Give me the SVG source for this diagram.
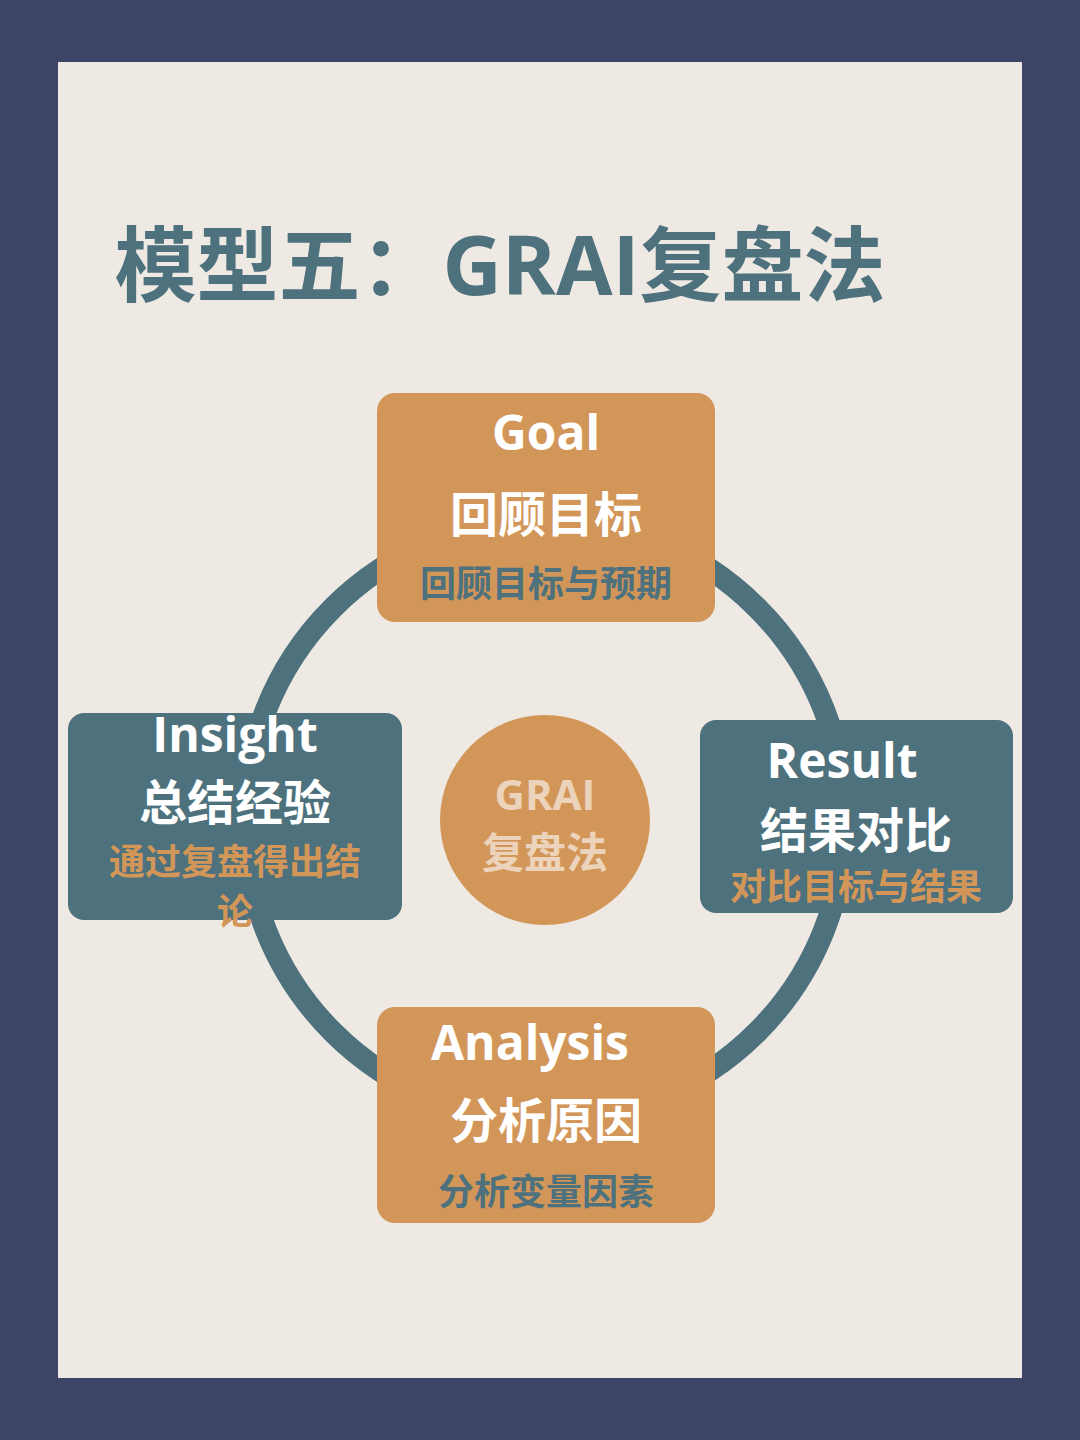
<svg xmlns="http://www.w3.org/2000/svg" width="1080" height="1440" viewBox="0 0 1080 1440">
<style>
text{font-family:"Open Sans","Noto Sans CJK SC",sans-serif;font-weight:bold;text-anchor:middle}
.w{fill:#ffffff}.t{fill:#4d717d}.o{fill:#d39659}.c{fill:#ecd3bb}
.big{font-size:48px}.sm{font-size:36px}
</style>
<rect width="1080" height="1440" fill="#3d4566"/>
<rect x="58" y="62" width="964" height="1316" fill="#efe9e4"/>
<text x="500" y="295" class="t" style="font-size:82px">模型五：GRAI复盘法</text>
<g id="connectors"><circle cx="545" cy="820" r="300" fill="none" stroke="#4d717d" stroke-width="22"/></g>
<g id="goal"><rect x="377" y="393" width="338" height="229" rx="18" fill="#d39659"/>
<text x="546" y="450" class="w big">Goal</text><text x="546" y="532" class="w big">回顾目标</text><text x="546" y="597" class="t sm">回顾目标与预期</text></g>
<g id="result"><rect x="700" y="720" width="313" height="193" rx="16" fill="#4d717d"/>
<text x="842" y="778" class="w big">Result</text><text x="856" y="848" class="w big">结果对比</text><text x="856" y="900" class="o sm">对比目标与结果</text></g>
<g id="insight"><rect x="68" y="713" width="334" height="207" rx="16" fill="#4d717d"/>
<text x="235" y="752" class="w big">Insight</text><text x="235" y="820" class="w big">总结经验</text><text x="235" y="875" class="o sm">通过复盘得出结</text><text x="235" y="925" class="o sm">论</text></g>
<g id="analysis"><rect x="377" y="1007" width="338" height="216" rx="18" fill="#d39659"/>
<text x="530" y="1060" class="w big">Analysis</text><text x="546" y="1138" class="w big">分析原因</text><text x="546" y="1205" class="t sm">分析变量因素</text></g>
<g id="center"><circle cx="545" cy="820" r="105" fill="#d39659"/>
<text x="545" y="810" class="c" style="font-size:42px">GRAI</text><text x="545" y="868" class="c" style="font-size:42px">复盘法</text></g>
</svg>
